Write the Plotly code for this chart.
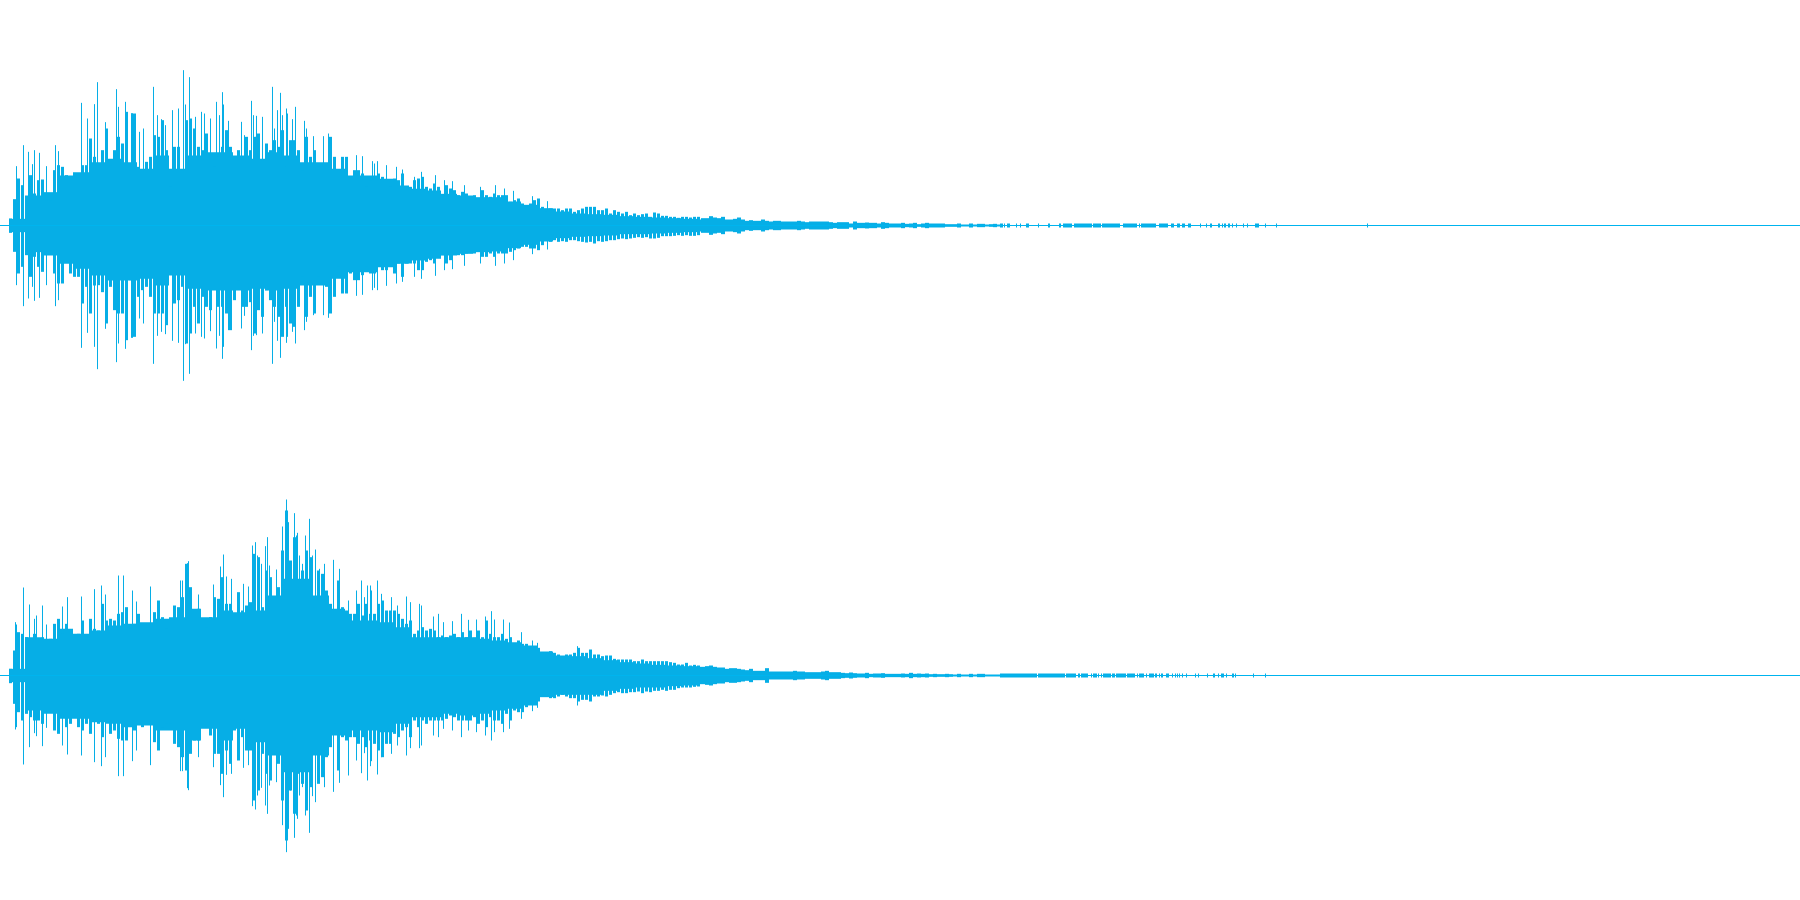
import plotly.graph_objects as go
from plotly.subplots import make_subplots

COLOR = "#06aee6"
TOTAL_BINS = 1800

# ---- channel 1: main body of the envelope (amplitude units), one value per 4 bins
ch1_up_a = [21,79,141,121,61,151,96,136,138,76,76,166,181,176,151,141,146,141,181,181,261,206,181,226,291,181,226,266,246,341,166,336,176,106,191,206,271,266,316,226,116,236,236,166,316,321,291,236,226,276,211,176,206,236,286,236,206,226,206,266,226,266,276,196,246,226,256,236,286,176,256,256,226,166,266,206,226,176,156,186,266,206,126,206,206,141]
ch1_dn_a = [22,79,144,124,89,154,94,124,139,79,74,144,174,174,99,144,154,154,234,184,264,180,179,200,294,184,254,264,264,344,164,334,214,194,184,214,264,264,264,299,114,234,224,184,354,324,244,294,214,244,254,174,244,244,264,314,224,164,244,244,230,324,254,274,194,224,244,274,334,244,294,304,244,154,274,214,264,154,174,184,264,214,124,204,204,144]
ch1_up_b = [166,166,156,116,136,146,156,146,126,116,141,136,156,116,116,136,141,146,116,111,126,116,91,121,111,106,91,101,96,81,91,81,106,91,86,96,91,91,91,71,76,81,66,56,66,76,81,56,41,51,51,51,46,51,51,41,46,51,56,56,56,46,46,51,36,46,41,36,41,31,36,31,34,36,26,39,36,29,29,26,26,23,26,26,24,26,26]
ch1_dn_b = [164,164,149,124,144,144,124,134,134,114,144,114,154,114,114,114,134,134,109,104,114,94,89,114,104,84,89,89,84,79,84,79,94,94,84,94,84,84,84,79,74,69,64,64,69,69,74,59,44,49,44,49,47,49,44,44,47,49,51,49,54,47,49,47,44,44,41,39,41,39,37,35,37,35,39,39,37,32,32,32,31,29,31,29,31,31,29]
ch1_tail = [22,22,28,24,22,26,18,18,20,24,18,14,16,14,14,18,14,12,14,14,12,12,12,12,14,12,10,12,12,12,12,12,10,8,10,10,10,6,12,8,8,9,8,8,6,10,8,6,6,6,8,5,6,8,4,6,8,6,6,6,6,4,4,4,6,3,3,6,3,5,5,3,4,5,3]

# ---- channel 1: solid core under the comb of columns, one value per 16 bins
ch1_core_up = [20,90,100,150,160,190,200,190,170,210,170,210,220,220,210,200,220,210,190,190,170,150,150,140,120,110,105,95,90,85,85,72,62,52,42,36,34,32,28,26,24,22,20,18]
ch1_core_dn = [20,80,90,115,130,150,165,165,160,180,150,190,195,195,195,190,195,190,180,180,160,140,140,125,115,105,100,90,85,80,78,68,58,48,38,34,32,30,26,26,24,22,20,18]

# ---- channel 1: narrow peaks
ch1_peak_t = [16,23,28,32,34,39,46,55,58,81,87,94,97,105,116,118,125,131,132,139,143,153,157,161,165,172,178,183,185,189,195,201,204,210,216,219,222,223,228,241,244,251,253,256,262,272,274,277,280,282,286,287,292,295,304,306,313,323,328,356,362,372,374,377,386,396,402,414,421,435,444,452,464,480,495,504,513,532,547]
ch1_peak_up = [178,241,221,184,226,218,178,241,223,368,321,364,430,310,409,356,371,337,337,281,291,416,331,319,301,346,351,466,363,445,326,341,336,321,371,331,400,363,314,311,271,374,331,329,326,416,291,346,398,331,351,336,319,356,314,291,268,268,276,211,208,193,186,193,181,176,168,146,161,151,136,133,121,116,121,111,104,88,73]
ch1_peak_dn = [179,242,219,184,226,217,179,242,224,367,322,364,431,310,410,354,370,337,337,279,294,415,331,319,326,346,352,466,356,445,324,334,339,317,369,331,400,364,314,309,271,374,331,329,324,415,289,346,397,331,352,334,319,354,314,289,269,269,277,211,208,194,187,194,181,174,169,154,160,151,134,131,121,114,121,114,104,86,72]

# ---- channel 1: isolated bursts in the fade-out (start bin, end bin)
ch1_burst_start = [1000,1004,1007,1016,1020,1026,1038,1048,1059,1063,1074,1093,1102,1123,1139,1141,1159,1171,1177,1182,1188,1200,1206,1210,1218,1222,1224,1228,1232,1236,1243,1247,1255,1265,1276,1367]
ch1_burst_end = [1003,1005,1010,1017,1021,1029,1039,1050,1061,1072,1092,1101,1120,1137,1140,1156,1168,1174,1180,1185,1191,1201,1207,1212,1220,1223,1226,1230,1233,1237,1244,1248,1259,1266,1277,1368]

# ---- channel 2: main body of the envelope
ch2_up_a = [20,75,130,125,115,110,125,105,115,105,110,155,170,125,155,135,115,125,165,115,170,140,135,215,165,170,165,185,190,205,140,155,185,155,145,155,190,225,175,140,170,210,205,235,335,265,195,200,165,145,175,235,230,295,215,215,165,250,195,210,220,365,355,205,315,295,235,265,375,495,345,415,265,315,375,355,205,315,305,255,215,165,285,205,195,185]
ch2_dn_a = [23,85,110,135,115,125,135,135,145,105,110,165,175,125,155,145,125,155,165,145,175,115,145,185,115,175,165,190,195,195,135,165,145,155,135,145,200,225,155,145,145,205,215,245,285,235,195,195,145,155,180,235,235,295,225,265,165,255,185,225,225,375,345,235,295,315,235,265,375,495,345,415,295,325,405,335,235,325,305,245,215,145,285,185,195,185]
ch2_up_b = [185,215,180,215,185,185,215,225,195,195,195,185,170,155,165,125,135,145,135,140,135,115,120,115,120,125,115,130,115,135,115,135,115,165,125,115,115,125,110,115,95,105,95,95,80,83,83,68,68,73,68,63,58,63,63,68,83,68,68,78,63,63,58,60,60,50,48,48,48,48,43,43,48,43,43,43,43,43,43,40,38,33,33,38,30,32,30]
ch2_dn_b = [185,205,185,215,195,205,225,245,205,205,175,185,165,155,185,135,155,135,145,135,135,135,135,130,120,125,135,135,135,135,125,145,135,155,125,135,135,145,115,135,105,110,110,95,85,78,78,58,63,68,68,63,58,63,68,68,78,73,73,78,63,63,60,63,58,53,50,53,53,50,50,48,53,48,50,46,46,43,46,43,43,38,36,36,36,34,33]
ch2_tail = [24,28,30,26,24,24,20,22,22,20,18,16,20,14,14,14,22,12,12,12,12,12,12,14,12,12,10,10,10,10,12,14,10,10,10,8,7,9,7,6,6,8,5,6,6,7,5,5,5,5,6,5,8,5,6,5,6,4,5,4,4,5,4,3,5,3,3,5,3,5,5,3,3,3,3]

ch2_core_up = [20,115,110,140,125,135,150,155,160,170,175,200,175,195,190,195,240,290,290,240,200,165,165,160,145,115,115,115,115,110,105,100,90,72,60,58,52,46,40,36,32,30,28,26]
ch2_core_dn = [20,105,115,130,130,140,145,155,150,165,165,195,160,195,160,200,240,290,290,240,180,165,165,170,145,125,125,115,120,115,105,100,90,65,58,58,58,46,40,36,36,32,30,26]

# ---- channel 2: narrow peaks
ch2_peak_t = [15,16,23,29,34,36,42,46,62,67,81,94,101,105,118,123,132,136,150,180,182,187,188,198,213,220,223,226,231,243,248,252,255,257,261,265,267,269,276,282,286,288,290,294,296,297,299,302,305,309,312,315,319,324,333,339,348,356,361,364,367,370,371,377,381,391,397,406,410,419,421,433,438,443,452,461,468,476,485,491,494,503,509,521,532,537,577]
ch2_peak_up = [160,153,264,213,170,180,210,153,207,235,237,259,270,243,300,300,255,222,267,285,285,337,343,243,273,327,363,297,290,275,267,390,400,360,335,388,415,330,318,447,528,460,343,487,420,428,360,335,420,470,360,378,320,335,347,320,225,255,285,235,270,270,255,285,245,235,210,237,220,215,210,177,185,160,163,185,167,168,177,193,168,168,159,130,105,98,88]
ch2_peak_dn = [162,155,267,215,173,182,212,157,210,237,240,260,272,245,302,302,257,225,269,287,287,338,344,245,275,329,365,298,295,277,269,392,402,360,337,390,415,330,320,449,530,460,345,487,420,430,360,335,420,472,362,380,322,335,349,322,300,255,293,233,315,272,257,297,245,235,210,240,218,218,210,180,185,160,165,185,165,170,180,195,170,170,160,130,107,97,90]

ch2_burst_start = [1000,1038,1066,1078,1081,1091,1093,1098,1101,1103,1112,1116,1127,1137,1139,1146,1149,1155,1159,1161,1166,1172,1175,1177,1179,1182,1186,1195,1198,1207,1213,1218,1221,1226,1232,1235,1253,1265]
ch2_burst_end = [1037,1065,1076,1080,1088,1092,1097,1099,1102,1111,1115,1126,1135,1138,1144,1147,1154,1157,1160,1163,1169,1173,1176,1178,1180,1183,1187,1196,1199,1208,1215,1219,1224,1227,1234,1236,1254,1266]
BURST_LEVEL = 6

FIRST_BIN = 9
BIN_STEP = 4
CORE_STEP = 16


def segments(ts, ups, dns):
    xs, ys = [], []
    for t, u, d in zip(ts, ups, dns):
        xs += [t, t, None]
        ys += [u, -d, None]
    return xs, ys


def columns(fig, row, ts, ups, dns, width):
    xs, ys = segments(ts, ups, dns)
    fig.add_trace(go.Scatter(x=xs, y=ys, mode="lines", line=dict(color=COLOR, width=width),
                             hoverinfo="skip"), row=row, col=1)


def add_channel(fig, row, up, dn, tail, core_up, core_dn, peak_t, peak_up, peak_dn, b_start, b_end):
    core_t = [FIRST_BIN + CORE_STEP * i + CORE_STEP / 2 for i in range(len(core_up))]
    columns(fig, row, core_t, core_up, core_dn, CORE_STEP)
    comb_t = [FIRST_BIN + BIN_STEP * i + 1.5 for i in range(len(up))]
    columns(fig, row, comb_t, up, dn, 3)
    tail_start = FIRST_BIN + BIN_STEP * len(up)
    tail_t = [tail_start + BIN_STEP * i + BIN_STEP / 2 for i in range(len(tail))]
    columns(fig, row, tail_t, tail, tail, BIN_STEP)
    bt, bu = [], []
    for s, e in zip(b_start, b_end):
        for t in range(s, e):
            bt.append(t)
            bu.append(BURST_LEVEL)
    columns(fig, row, [t + 0.5 for t in list(peak_t) + bt], list(peak_up) + bu, list(peak_dn) + bu, 1)
    fig.add_trace(go.Scatter(x=[0, TOTAL_BINS], y=[0, 0], mode="lines",
                             line=dict(color="#00b4ee", width=1), hoverinfo="skip"), row=row, col=1)


fig = make_subplots(rows=2, cols=1, vertical_spacing=0, shared_xaxes=False)
add_channel(fig, 1, ch1_up_a + ch1_up_b, ch1_dn_a + ch1_dn_b, ch1_tail, ch1_core_up, ch1_core_dn,
            ch1_peak_t, ch1_peak_up, ch1_peak_dn, ch1_burst_start, ch1_burst_end)
add_channel(fig, 2, ch2_up_a + ch2_up_b, ch2_dn_a + ch2_dn_b, ch2_tail, ch2_core_up, ch2_core_dn,
            ch2_peak_t, ch2_peak_up, ch2_peak_dn, ch2_burst_start, ch2_burst_end)

fig.update_xaxes(visible=False, range=[0, TOTAL_BINS], fixedrange=True)
fig.update_yaxes(visible=False, range=[-673.5, 676.5], fixedrange=True)
fig.update_layout(width=1800, height=900, margin=dict(l=0, r=0, t=0, b=0),
                  paper_bgcolor="white", plot_bgcolor="white", showlegend=False)
fig.write_html("out.html", config={"displayModeBar": False},
               post_script="document.body.style.margin='0';document.body.style.overflow='hidden';")
